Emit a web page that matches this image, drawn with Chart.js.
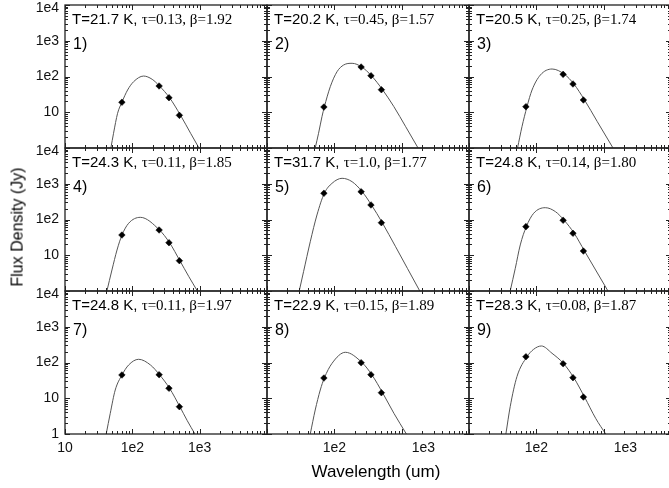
<!DOCTYPE html>
<html>
<head>
<meta charset="utf-8">
<script src="https://cdn.jsdelivr.net/npm/chart.js@4.4.0/dist/chart.umd.min.js"></script>
<style>
  html, body { margin: 0; padding: 0; background: #fff; overflow: hidden; }
  #fig { position: relative; width: 669px; height: 488px; overflow: hidden; }
  #fig canvas { position: absolute; left: 0; top: 0; }
  .lbl { position: absolute; white-space: nowrap; color: #000; line-height: 1; }
  .par { font: 15px "Liberation Sans", Arial, sans-serif; }
  .par .g { font-family: "Liberation Serif", "Times New Roman", serif; }
  .num { font: 16px "Liberation Sans", Arial, sans-serif; }
  .axt { position: absolute; white-space: nowrap; color: #000; font-family: "Liberation Sans", Arial, sans-serif; line-height: 1; }
</style>
</head>
<body>
<div id="fig"></div>
<script>
// ─── DATA ───────────────────────────────────────────────────────────────
const obsWave = [70, 250, 350, 500];               // um
const obsFlux = [                                   // Jy, one row per panel
  [19.0, 54.2, 25.5, 8.2],
  [14.0, 184, 105, 42.7],
  [14.3, 115, 61.7, 22.0],
  [36.8, 50.8, 22.4, 7.05],
  [541, 600, 255, 81.3],
  [63, 95, 41.1, 13.1],
  [44.7, 45.6, 19.0, 5.8],
  [36.8, 98.6, 45.6, 14.3],
  [145, 92.5, 37.6, 10.8]
];
const fitWave = [
  [48, 52.6, 60.4, 70, 85, 104.5, 147, 197, 253, 357, 520, 734, 977],
  [52, 58.3, 65.5, 71, 87.1, 109.6, 137.6, 183.7, 255, 356, 520, 767, 1148, 1752],
  [52.6, 61.2, 72.6, 86.3, 114.8, 171.4, 262, 361, 520, 805, 1377],
  [41.9, 49.8, 59.2, 70.2, 88.1, 131.5, 253, 357, 508, 692, 925],
  [30.1, 34.9, 43.9, 55.2, 71, 92.5, 130.3, 183.7, 259, 356, 515, 813, 1216, 1858],
  [40.9, 48.7, 57.7, 70.9, 91.2, 136, 192, 259, 365, 520, 760, 1159],
  [40.9, 47, 55.7, 70.2, 88.1, 124, 186, 253, 357, 508, 655, 851],
  [43.9, 52, 61.8, 71, 92.5, 146, 259, 360, 520, 767, 1175],
  [35.3, 40.9, 51.5, 72.6, 91.2, 119, 171, 255, 360, 520, 760, 1072]
];
const fitFlux = [
  [1, 2.58, 9.35, 19, 41.9, 71.6, 103, 83.5, 54.2, 25.5, 8.2, 2.58, 1],
  [1, 2.58, 7.5, 14, 51.9, 136, 210, 234, 184.5, 105, 42.7, 14.3, 3.94, 1],
  [1, 3.94, 14.3, 41.9, 110, 162, 115, 61.7, 22, 5.45, 1],
  [1, 3.87, 14, 36.8, 78.3, 115, 50.8, 22.4, 7.05, 2.51, 1],
  [1, 3.47, 23.9, 134, 541, 1030, 1420, 1140, 600, 255, 81.3, 17.3, 4.31, 1],
  [1, 4.31, 19.4, 63, 149, 214, 166, 95, 41.1, 13.1, 3.87, 1],
  [1, 3.79, 17, 44.7, 85.1, 123, 85.1, 45.6, 19, 5.8, 2.35, 1],
  [1, 4.69, 17, 36.8, 95, 193, 98.6, 45.6, 14.3, 3.79, 1],
  [1, 5.8, 40.1, 145, 234, 290, 181, 92.5, 37.6, 10.8, 2.75, 1]
];
const temps = ['21.7', '20.2', '20.5', '24.3', '31.7', '24.8', '24.8', '22.9', '28.3'];
const taus  = ['0.13', '0.45', '0.25', '0.11', '1.0', '0.14', '0.11', '0.15', '0.08'];
const betas = ['1.92', '1.57', '1.74', '1.85', '1.77', '1.80', '1.97', '1.89', '1.87'];

// tick labels; the top "1e4" and the right "1e3" sit a bit off their decade in the original
const yTickVals = [10, 100, 1000, 8250];
const yTickText = ['10', '1e2', '1e3', '1e4'];
const yTickValsLast = [1, 10, 100, 1000, 8250];
const yTickTextLast = ['1', '10', '1e2', '1e3', '1e4'];
const xTickValsFirst = [10, 100, 1000];
const xTickTextFirst = ['10', '1e2', '1e3'];
const xTickVals = [100, 2100];
const xTickText = ['1e2', '1e3'];

// ─── LAYOUT ──────────────────────────────────────────────────────────────
const CW = 680, CH = 488;
const colLeft = [65, 267, 469], rowTop = [5, 148, 291];
const PW = 202, PH = 143;
const Y_AXIS_W = 40, X_AXIS_H = 30;
const SANS = "'Liberation Sans', Arial, sans-serif";

// frame with inward major/minor ticks on all four sides
const frameTicks = {
  id: 'frameTicks',
  afterDatasetsDraw(chart) {
    const { ctx, chartArea: a } = chart;
    const xs = chart.scales.x, ys = chart.scales.y;
    ctx.save();
    ctx.strokeStyle = '#222';
    ctx.lineWidth = 1;
    ctx.beginPath();
    for (let e = 1; e <= 4; e++) {
      for (let m = 1; m <= 9; m++) {
        const v = m * Math.pow(10, e);
        if (v > 10000) break;
        const px = Math.round(xs.getPixelForValue(v)) + 0.5;
        const len = m === 1 ? 5 : 3;
        ctx.moveTo(px, a.bottom); ctx.lineTo(px, a.bottom - len);
        ctx.moveTo(px, a.top); ctx.lineTo(px, a.top + len);
      }
    }
    for (let e = 0; e <= 4; e++) {
      for (let m = 1; m <= 9; m++) {
        const v = m * Math.pow(10, e);
        if (v > 10000) break;
        const py = Math.round(ys.getPixelForValue(v)) + 0.5;
        const len = m === 1 ? 5 : 3;
        ctx.moveTo(a.left, py); ctx.lineTo(a.left + len, py);
        ctx.moveTo(a.right, py); ctx.lineTo(a.right - len, py);
      }
    }
    ctx.stroke();
    ctx.lineWidth = 1.3;
    ctx.strokeRect(a.left, a.top, a.right - a.left, a.bottom - a.top);
    ctx.restore();
  }
};

const fig = document.getElementById('fig');

for (let p = 0; p < 9; p++) {
  const r = Math.floor(p / 3), c = p % 3;
  const isLeft = c === 0, isBottom = r === 2;
  const L = colLeft[c], T = rowTop[r];

  const cv = document.createElement('canvas');
  cv.width = CW; cv.height = CH;
  cv.style.width = CW + 'px'; cv.style.height = CH + 'px';
  fig.appendChild(cv);

  const yv = isBottom ? yTickValsLast : yTickVals;
  const yt = isBottom ? yTickTextLast : yTickText;
  const xv = isLeft ? xTickValsFirst : xTickVals;
  const xt = isLeft ? xTickTextFirst : xTickText;

  new Chart(cv, {
    type: 'scatter',
    data: {
      datasets: [
        {
          data: obsWave.map((w, i) => ({ x: w, y: obsFlux[p][i] })),
          pointStyle: 'rectRot',
          pointRadius: 3.3,
          backgroundColor: '#000',
          borderColor: '#000',
          borderWidth: 0.5,
          showLine: false
        },
        {
          data: fitWave[p].map((w, i) => ({ x: w, y: fitFlux[p][i] })),
          showLine: true,
          pointRadius: 0,
          borderColor: '#555',
          borderWidth: 1,
          cubicInterpolationMode: 'monotone'
        }
      ]
    },
    options: {
      responsive: false,
      animation: false,
      events: [],
      layout: {
        padding: {
          left: isLeft ? L - Y_AXIS_W : L,
          top: T,
          right: CW - (L + PW),
          bottom: isBottom ? CH - (T + PH) - X_AXIS_H : CH - (T + PH)
        }
      },
      plugins: { legend: { display: false }, tooltip: { enabled: false } },
      scales: {
        x: {
          type: 'logarithmic', min: 10, max: 10000,
          display: isBottom,
          grid: { display: false, drawTicks: false },
          border: { display: false },
          afterBuildTicks: s => { s.ticks = xv.map(v => ({ value: v })); },
          afterFit: s => {
            if (isBottom) s.height = X_AXIS_H;
            s.paddingLeft = 0; s.paddingRight = 0;
          },
          ticks: {
            autoSkip: false, maxRotation: 0, padding: 6, color: '#111',
            font: { family: SANS, size: 14 },
            callback: (v, i) => xt[i]
          }
        },
        y: {
          type: 'logarithmic', min: 1, max: 10000,
          display: isLeft,
          grid: { display: false, drawTicks: false },
          border: { display: false },
          afterBuildTicks: s => { s.ticks = yv.map(v => ({ value: v })); },
          afterFit: s => {
            if (isLeft) s.width = Y_AXIS_W;
            s.paddingTop = 0; s.paddingBottom = 0;
          },
          ticks: {
            autoSkip: false, padding: 6, color: '#111',
            font: { family: SANS, size: 14 },
            callback: (v, i) => yt[i]
          }
        }
      }
    },
    plugins: [frameTicks]
  });

  const par = document.createElement('div');
  par.className = 'lbl par';
  par.style.left = (L + 7) + 'px';
  par.style.top = (T + 5) + 'px';
  par.innerHTML = `T=${temps[p]} K, <span class="g">τ=${taus[p]}, β=${betas[p]}</span>`;
  fig.appendChild(par);

  const num = document.createElement('div');
  num.className = 'lbl num';
  num.style.left = (L + 8) + 'px';
  num.style.top = (T + 30) + 'px';
  num.textContent = (p + 1) + ')';
  fig.appendChild(num);
}

// axis titles
const yt = document.createElement('div');
yt.className = 'axt';
yt.style.fontSize = '16px';
yt.textContent = 'Flux Density (Jy)';
fig.appendChild(yt);
yt.style.left = (17 - yt.offsetWidth / 2) + 'px';
yt.style.top = (227 - yt.offsetHeight / 2) + 'px';
yt.style.transform = 'rotate(-90deg)';

const xtl = document.createElement('div');
xtl.className = 'axt';
xtl.style.fontSize = '17px';
xtl.textContent = 'Wavelength (um)';
fig.appendChild(xtl);
xtl.style.left = (376 - xtl.offsetWidth / 2) + 'px';
xtl.style.top = (471 - xtl.offsetHeight / 2) + 'px';
</script>
</body>
</html>
